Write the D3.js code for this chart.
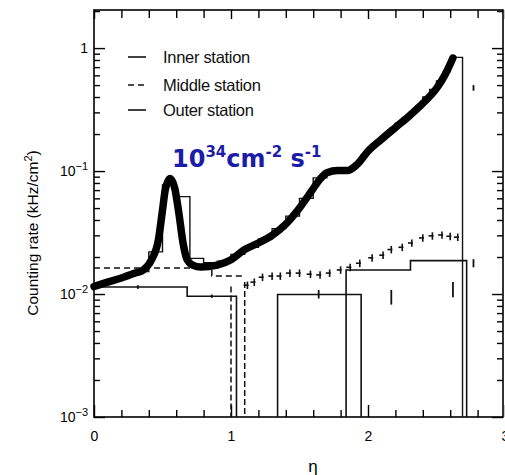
<!DOCTYPE html>
<html><head><meta charset="utf-8">
<script src="https://cdn.jsdelivr.net/npm/d3@7"></script>
<style>body{margin:0;background:#fff}svg{display:block}</style>
</head><body>
<svg id="c" width="505" height="475"></svg>
<script>
// ---- data ----
const curveEta = [0.0,0.1,0.2,0.3,0.36,0.42,0.47,0.50,0.52,0.555,0.59,0.62,0.65,0.68,0.72,0.78,0.9,1.0,1.1,1.2,1.3,1.4,1.5,1.6,1.65,1.7,1.78,1.85,1.92,2.0,2.1,2.2,2.3,2.4,2.5,2.56,2.62];
const curveVal = [0.0115,0.0125,0.0135,0.0148,0.0157,0.019,0.0276,0.048,0.07,0.087,0.072,0.045,0.026,0.019,0.0172,0.0166,0.0172,0.019,0.023,0.026,0.030,0.037,0.050,0.072,0.086,0.097,0.101,0.101,0.113,0.145,0.182,0.226,0.28,0.355,0.47,0.60,0.83];

const innerEdges = [0,0.1,0.2,0.3,0.4,0.5,0.6,0.7,0.8,0.9,1.0,1.1,1.2,1.3,1.4,1.5,1.6,1.7,1.8,1.9,1.95,2.0,2.05,2.1,2.15,2.2,2.25,2.3,2.35,2.4,2.45,2.5,2.55,2.6,2.69];
const innerVal = [0.0122,0.0132,0.0142,0.0152,0.022,0.077,0.062,0.0195,0.018,0.0185,0.021,0.024,0.028,0.034,0.043,0.06,0.088,0.102,0.102,0.115,0.135,0.155,0.172,0.19,0.215,0.245,0.27,0.30,0.34,0.40,0.46,0.54,0.64,0.84];

const middleEdges = [0,0.86,1.08];
const middleVal = [0.0163,0.014];
const middleDrops = [[1.0,0.0115],[1.10,0.0125]];
const middleEta = [1.12,1.17,1.23,1.30,1.36,1.43,1.50,1.58,1.65,1.72,1.80,1.87,1.94,2.03,2.11,2.17,2.25,2.32,2.40,2.47,2.54,2.60,2.655];
const middleRate = [0.0118,0.0125,0.0137,0.014,0.014,0.0148,0.0148,0.0145,0.0143,0.0148,0.0157,0.0165,0.0178,0.0197,0.0207,0.023,0.024,0.026,0.0286,0.0297,0.0302,0.0295,0.029];

const outerA_Edges = [0,0.68,1.04];
const outerA_Val = [0.0114,0.0096];
const outerB_Edges = [1.34,1.95];
const outerB_Val = [0.0099];
const outerC_Edges = [1.84,2.31,2.72];
const outerC_Val = [0.0157,0.0187];
const outerErrEta = [0.32,0.86,1.64,2.17,2.62,2.77,2.77];
const outerErrLo = [0.0110,0.0093,0.0092,0.0082,0.0094,0.0165,0.45];
const outerErrHi = [0.0118,0.0099,0.0108,0.0108,0.0125,0.0192,0.50];

const legendLabels = ["Inner station","Middle station","Outer station"];
const yTickVals = [1e-3,1e-2,1e-1,1];
const yTickExp = [-3,-2,-1,0];
const xTickVals = [0,1,2,3];

// ---- scales ----
const svg = d3.select("#c");
const x = d3.scaleLinear().domain([0,3]).range([94,505]);
const y = d3.scaleLog().domain([1e-3,2.04]).range([417,10]);
const X0=94, X1=503, Y0=10, Y1=417;
const font = "'Liberation Sans', Arial, sans-serif";

const yMinor = [];
for (let e=-3;e<=0;e++) for (let k=2;k<=9;k++){const v=k*Math.pow(10,e); if (v<2.04) yMinor.push(v);}
const xMinor = d3.range(0,3.001,0.2).filter(v=>Math.abs(v-Math.round(v))>1e-6);

function axisG(gen, tx, ty){
  const g = svg.append("g").attr("transform",`translate(${tx},${ty})`).call(gen);
  g.select(".domain").remove();
  g.selectAll(".tick line").attr("stroke","#000").attr("stroke-width",1.4);
  return g;
}
axisG(d3.axisLeft(y).tickValues(yTickVals).tickSize(-11).tickFormat(""), X0, 0);
axisG(d3.axisLeft(y).tickValues(yMinor).tickSize(-6).tickFormat(""), X0, 0);
axisG(d3.axisRight(y).tickValues(yTickVals).tickSize(-11).tickFormat(""), X1, 0);
axisG(d3.axisRight(y).tickValues(yMinor).tickSize(-6).tickFormat(""), X1, 0);
const bx = axisG(d3.axisBottom(x).tickValues(xTickVals).tickSize(-12).tickPadding(14).tickFormat(d3.format("d")), 0, Y1);
bx.selectAll("text").attr("font-family",font).attr("font-size",14).attr("fill","#000");
axisG(d3.axisBottom(x).tickValues(xMinor).tickSize(-7).tickFormat(""), 0, Y1);
axisG(d3.axisTop(x).tickValues(xTickVals).tickSize(-9).tickFormat(""), 0, Y0);
axisG(d3.axisTop(x).tickValues(xMinor).tickSize(-8).tickFormat(""), 0, Y0);

yTickVals.forEach((v,i)=>{
  const t = svg.append("text").attr("font-family",font).attr("font-size",14).attr("text-anchor","end")
    .attr("x", X0-6).attr("y", y(v)+5);
  if (yTickExp[i]===0) { t.text("1"); }
  else {
    t.append("tspan").text("10");
    t.append("tspan").attr("font-size",11).attr("dy",-6).text("\u2212"+Math.abs(yTickExp[i]));
  }
});

svg.append("rect").attr("x",X0).attr("y",Y0).attr("width",X1-X0).attr("height",Y1-Y0)
  .attr("fill","none").attr("stroke","#000").attr("stroke-width",1.6);

const yt = svg.append("text").attr("font-family",font).attr("font-size",15.5).attr("text-anchor","middle")
  .attr("transform","translate(38,233) rotate(-90)");
yt.append("tspan").text("Counting rate (kHz/cm");
yt.append("tspan").attr("font-size",11).attr("dy",-6).text("2");
yt.append("tspan").attr("dy",6).text(")");
svg.append("text").attr("font-family",font).attr("font-size",17).attr("text-anchor","middle")
  .attr("x",313).attr("y",472).text("\u03b7");

function stepPts(edges, vals, dropStart, dropEnd){
  const pts=[];
  if (dropStart) pts.push([edges[0], 1e-3]);
  vals.forEach((v,i)=>{pts.push([edges[i],v]); pts.push([edges[i+1],v]);});
  if (dropEnd) pts.push([edges[edges.length-1], 1e-3]);
  return pts;
}
const lineXY = d3.line().x(d=>x(d[0])).y(d=>y(d[1]));
const plot = svg.append("g");

[[outerA_Edges,outerA_Val,false],[outerB_Edges,outerB_Val,true],[outerC_Edges,outerC_Val,true]].forEach(([e,v,ds])=>{
  plot.append("path").attr("d",lineXY(stepPts(e,v,ds,true))).attr("fill","none")
    .attr("stroke","#111").attr("stroke-width",1.6);
});
outerErrEta.forEach((e,i)=>{
  plot.append("line").attr("x1",x(e)).attr("x2",x(e)).attr("y1",y(outerErrLo[i])).attr("y2",y(outerErrHi[i]))
    .attr("stroke","#111").attr("stroke-width",1.8);
});

plot.append("path").attr("d",lineXY(stepPts(middleEdges,middleVal,false,false))).attr("fill","none")
  .attr("stroke","#111").attr("stroke-width",1.5).attr("stroke-dasharray","6,4");
middleDrops.forEach(d=>{
  plot.append("line").attr("x1",x(d[0])).attr("x2",x(d[0])).attr("y1",y(d[1])).attr("y2",y(1e-3))
    .attr("stroke","#111").attr("stroke-width",1.5).attr("stroke-dasharray","6,3");
});
middleEta.forEach((e,i)=>{
  const v=middleRate[i];
  plot.append("line").attr("x1",x(e-0.028)).attr("x2",x(e+0.028)).attr("y1",y(v)).attr("y2",y(v))
    .attr("stroke","#111").attr("stroke-width",1.6).attr("stroke-dasharray","5,3");
  plot.append("line").attr("x1",x(e)).attr("x2",x(e)).attr("y1",y(v*0.93)).attr("y2",y(v*1.07))
    .attr("stroke","#111").attr("stroke-width",1.6);
});

plot.append("path").attr("d",lineXY(stepPts(innerEdges,innerVal,false,true))).attr("fill","none")
  .attr("stroke","#111").attr("stroke-width",1.4);

const curveLine = d3.line().x(d=>x(d[0])).y(d=>y(d[1])).curve(d3.curveMonotoneX);
plot.append("path").attr("d",curveLine(curveEta.map((e,i)=>[e,curveVal[i]]))).attr("fill","none")
  .attr("stroke","#000").attr("stroke-width",7.5).attr("stroke-linecap","round").attr("stroke-linejoin","round");

legendLabels.forEach((lab,i)=>{
  const yy=[57,85,110][i];
  svg.append("line").attr("x1",128).attr("x2",146).attr("y1",yy).attr("y2",yy)
    .attr("stroke","#111").attr("stroke-width",1.6).attr("stroke-dasharray", i===1?"6,4":null);
  svg.append("text").attr("font-family",font).attr("font-size",16.5).attr("x",163).attr("y",yy+6)
    .attr("fill","#111").attr("letter-spacing",-0.3).text(lab);
});

const ann = svg.append("text").attr("font-family","'DejaVu Sans', sans-serif").attr("font-weight","bold")
  .attr("font-size",24).attr("fill","#1c1ca8").attr("x",172).attr("y",167);
ann.append("tspan").text("10");
ann.append("tspan").attr("font-size",15).attr("dy",-10).text("34");
ann.append("tspan").attr("dy",10).text("cm");
ann.append("tspan").attr("font-size",15).attr("dy",-10).text("-2");
ann.append("tspan").attr("dy",10).text(" s");
ann.append("tspan").attr("font-size",15).attr("dy",-10).text("-1");
</script>
</body></html>
